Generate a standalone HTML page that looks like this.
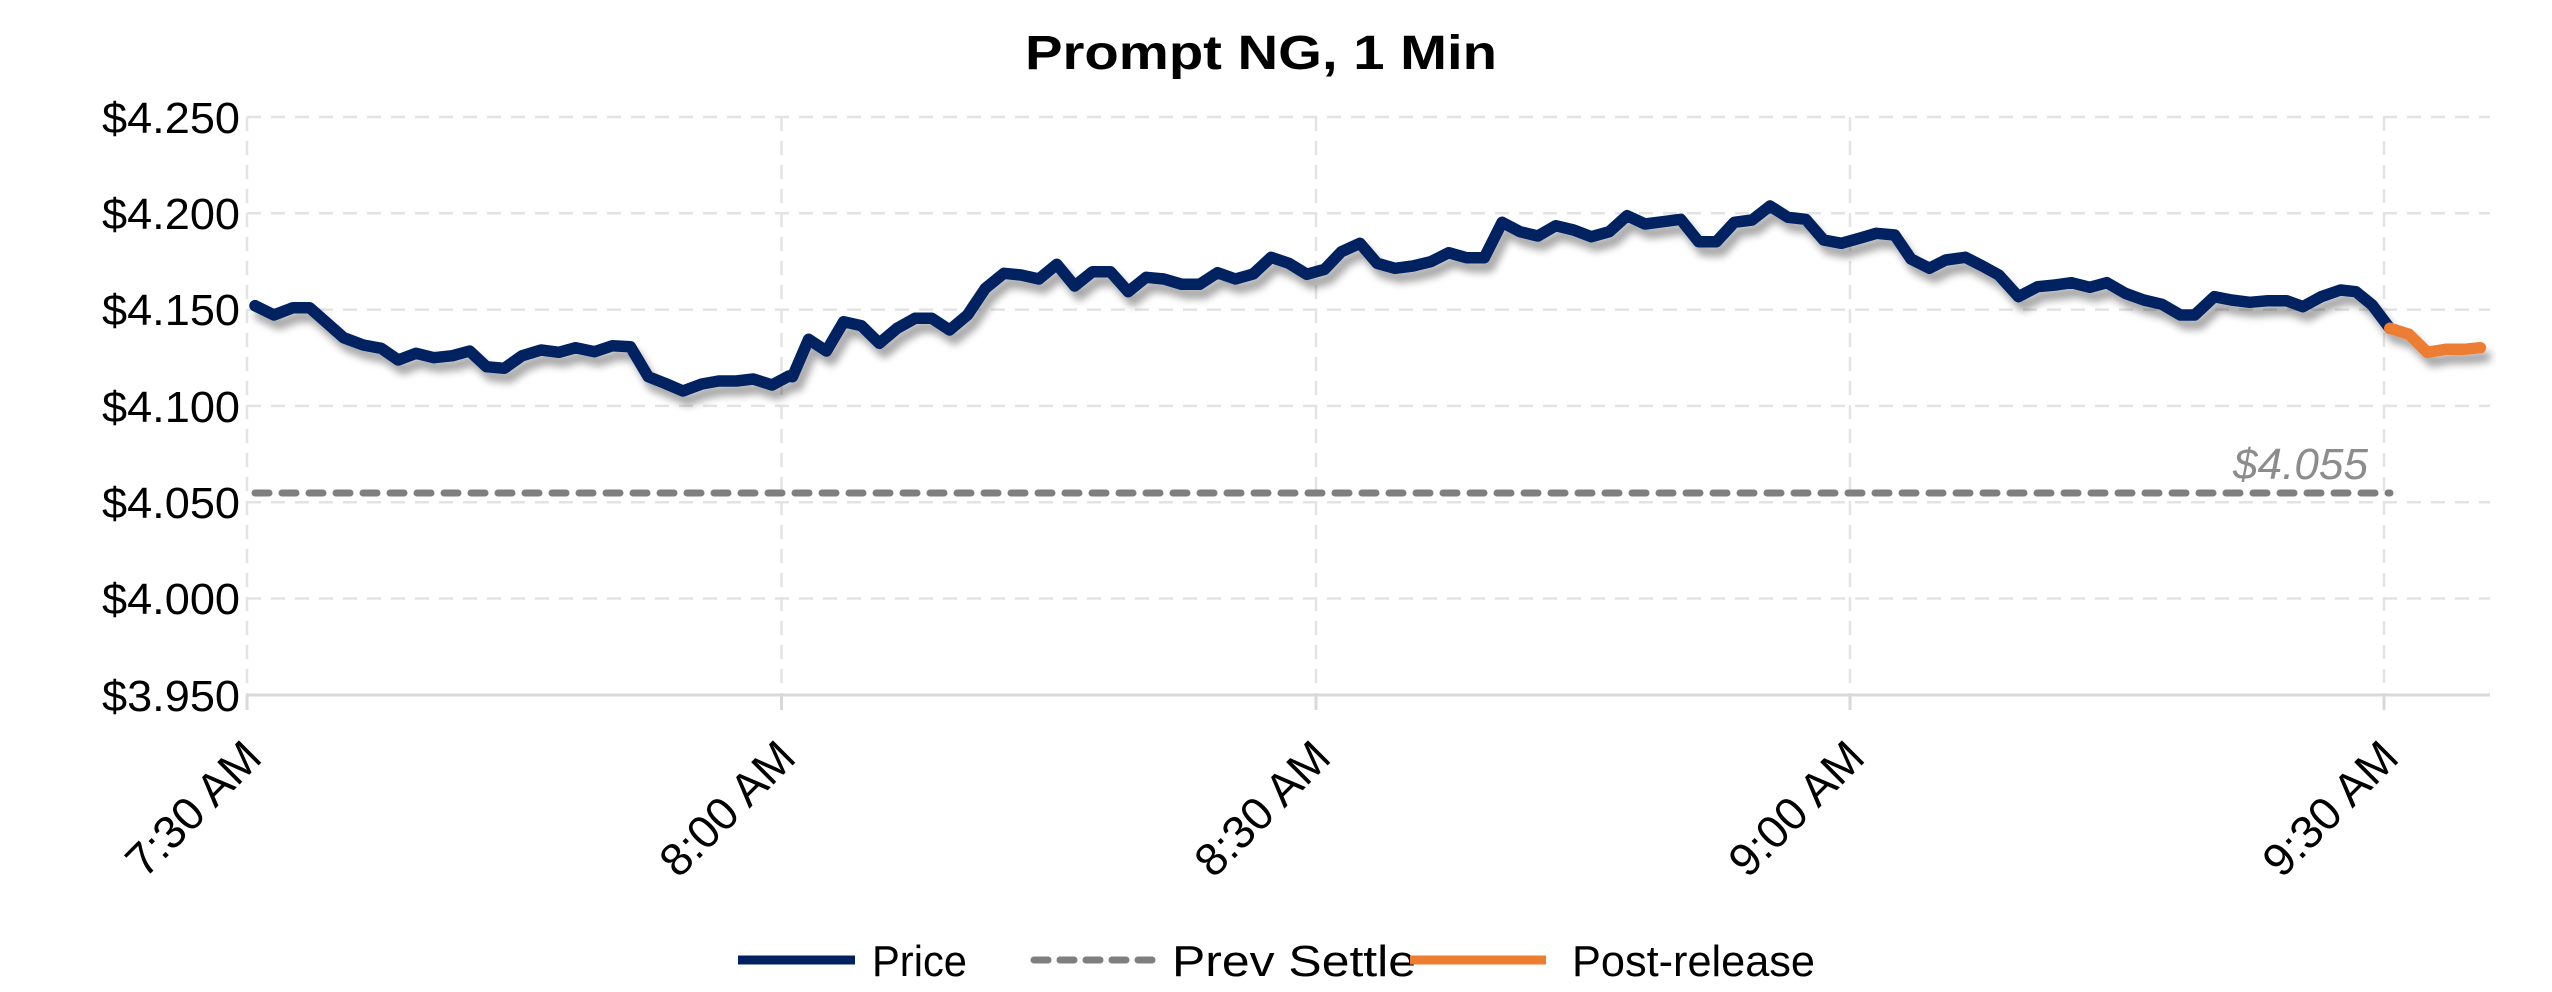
<!DOCTYPE html>
<html><head><meta charset="utf-8"><style>
html,body{margin:0;padding:0;background:#fff;}
svg{display:block;}
text{font-family:"Liberation Sans",sans-serif;}
</style></head><body>
<svg width="2552" height="992" viewBox="0 0 2552 992" xmlns="http://www.w3.org/2000/svg">
<defs>
<filter id="sh" x="-5%" y="-20%" width="110%" height="150%">
<feGaussianBlur in="SourceAlpha" stdDeviation="4"/>
<feOffset dx="5" dy="9" result="b"/>
<feComponentTransfer><feFuncA type="linear" slope="0.35"/></feComponentTransfer>
<feMerge><feMergeNode/><feMergeNode in="SourceGraphic"/></feMerge>
</filter>
</defs>
<text x="1261" y="69" text-anchor="middle" font-size="48" font-weight="bold" textLength="472" lengthAdjust="spacingAndGlyphs">Prompt NG, 1 Min</text>
<g stroke="#e3e3e3" stroke-width="2.5" stroke-dasharray="14,10" fill="none">
<line x1="247" y1="117" x2="2490" y2="117"/>
<line x1="247" y1="213.3" x2="2490" y2="213.3"/>
<line x1="247" y1="309.6" x2="2490" y2="309.6"/>
<line x1="247" y1="405.9" x2="2490" y2="405.9"/>
<line x1="247" y1="502.2" x2="2490" y2="502.2"/>
<line x1="247" y1="598.5" x2="2490" y2="598.5"/>
<line x1="247" y1="117" x2="247" y2="695"/>
<line x1="781.5" y1="117" x2="781.5" y2="695"/>
<line x1="1316" y1="117" x2="1316" y2="695"/>
<line x1="1850" y1="117" x2="1850" y2="695"/>
<line x1="2384" y1="117" x2="2384" y2="695"/>
</g>
<line x1="247" y1="695" x2="2490" y2="695" stroke="#d9d9d9" stroke-width="3"/>
<g stroke="#d9d9d9" stroke-width="3">
<line x1="247" y1="695" x2="247" y2="710"/><line x1="781.5" y1="695" x2="781.5" y2="710"/><line x1="1316" y1="695" x2="1316" y2="710"/><line x1="1850" y1="695" x2="1850" y2="710"/><line x1="2384" y1="695" x2="2384" y2="710"/>
</g>
<g font-size="44" text-anchor="end" fill="#000">
<text x="240" y="133" textLength="138" lengthAdjust="spacingAndGlyphs">$4.250</text>
<text x="240" y="229" textLength="138" lengthAdjust="spacingAndGlyphs">$4.200</text>
<text x="240" y="325" textLength="138" lengthAdjust="spacingAndGlyphs">$4.150</text>
<text x="240" y="422" textLength="138" lengthAdjust="spacingAndGlyphs">$4.100</text>
<text x="240" y="518" textLength="138" lengthAdjust="spacingAndGlyphs">$4.050</text>
<text x="240" y="614" textLength="138" lengthAdjust="spacingAndGlyphs">$4.000</text>
<text x="240" y="711" textLength="138" lengthAdjust="spacingAndGlyphs">$3.950</text>
</g>
<g font-size="46" text-anchor="end">
<text transform="translate(264,760) rotate(-45)">7:30 AM</text>
<text transform="translate(798,760) rotate(-45)">8:00 AM</text>
<text transform="translate(1333,760) rotate(-45)">8:30 AM</text>
<text transform="translate(1867,760) rotate(-45)">9:00 AM</text>
<text transform="translate(2401,760) rotate(-45)">9:30 AM</text>
</g>
<line x1="255" y1="493" x2="2390" y2="493" stroke="#7f7f7f" stroke-width="7" stroke-dasharray="14,13" stroke-linecap="round"/>
<text x="2233" y="479" font-size="44" font-style="italic" fill="#8c8c8c" textLength="135" lengthAdjust="spacingAndGlyphs">$4.055</text>
<g filter="url(#sh)" fill="none" stroke-width="11.5" stroke-linejoin="round" stroke-linecap="round">
<polyline stroke="#002060" points="255,305.7 273.9,315 292.9,307.7 309.6,307.7 343.6,337.7 363.2,345 381.1,348.3 398.2,360 416.1,353.3 433.9,357.7 452.5,355.7 469.6,351 486.4,366.7 504.3,368.3 522.1,355.7 541.1,350 558.9,352.3 575.7,347.7 594.6,351.7 612.5,345.7 630.4,346.7 648.2,376.7 665,383.3 682.9,391 701.8,384 718.6,381 736.4,381 753.2,379 772.1,385 788.9,376 792.5,376.7 808.6,339.3 826.4,351 843.6,321.7 861.4,325.7 879.3,343.3 897.1,328.3 915,318.3 931.8,318.3 949.6,330 967.5,315 985.4,288.3 1003.9,273.3 1021.1,275 1038.9,279 1056.8,264.3 1074.6,286 1092.5,271.7 1110.4,271.7 1128.2,291.7 1146.1,277.3 1163.9,279 1181.8,284.3 1199.6,284.3 1217.5,272.7 1235.4,279 1253.2,274 1271.1,257.3 1288.9,263.3 1306.8,274.3 1324.6,269.3 1341.4,251.7 1360,243.3 1377.1,263.3 1395,268.3 1412.9,266 1430.7,261.7 1448.6,252.7 1466.4,257.7 1484.3,257.7 1502.1,222.3 1520,231.7 1537.9,236 1555.7,225.7 1573.6,230 1591.4,236.7 1609.3,231.7 1627.1,215.7 1645,224 1662.9,221.7 1680.7,219.3 1698.6,241.7 1716.4,241.7 1734.3,222.3 1752.1,220 1770,206 1787.9,217.3 1805.7,219.3 1823.6,240 1841.4,243.3 1859.3,238.3 1876.3,233.3 1894.7,235 1911,259 1929.4,268.3 1945.7,260 1965.3,257.3 1982.4,266 1998.8,275 2018.4,296.7 2037.6,286.7 2055.1,285 2071.4,282.7 2089.8,287.3 2106.9,282.7 2125.3,293.3 2143.7,300 2162,304.3 2180.4,315 2194.7,315 2214.3,296.7 2231.4,300 2249.8,302.3 2268.2,300.7 2286.5,300.7 2302.9,306.7 2321.2,296.7 2340.4,290 2355.9,291.7 2372.2,305 2389.8,328.3"/>
<polyline stroke="#ed7d31" points="2389.8,328.3 2409,334.3 2427.3,352.3 2445.7,349.3 2464.1,349.3 2480.4,347.7"/>
</g>
<g font-size="44">
<line x1="738" y1="960" x2="855" y2="960" stroke="#002060" stroke-width="9"/>
<text x="872" y="976" textLength="95" lengthAdjust="spacingAndGlyphs">Price</text>
<line x1="1034" y1="960" x2="1159" y2="960" stroke="#7f7f7f" stroke-width="7" stroke-dasharray="14,12" stroke-linecap="round"/>
<text x="1172" y="976" textLength="244" lengthAdjust="spacingAndGlyphs">Prev Settle</text>
<line x1="1410" y1="960" x2="1546" y2="960" stroke="#ed7d31" stroke-width="9"/>
<text x="1572" y="976" textLength="243" lengthAdjust="spacingAndGlyphs">Post-release</text>
</g>
</svg>
</body></html>
